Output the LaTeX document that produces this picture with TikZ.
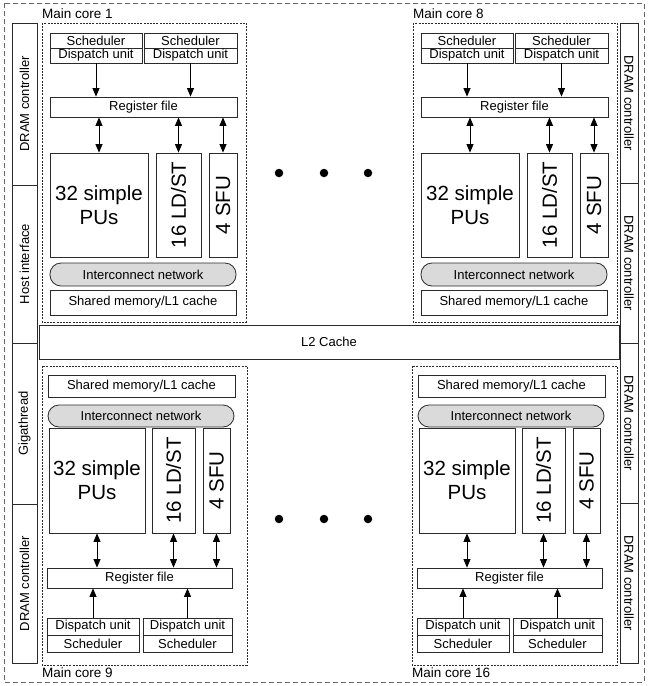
\documentclass[tikz,border=0pt]{standalone}
\usepackage{fontspec}
\setmainfont{Liberation Sans}
\usetikzlibrary{arrows.meta}
\definecolor{linec}{HTML}{2A2A2A}
\definecolor{icfill}{HTML}{DADADA}
\definecolor{outerc}{HTML}{666666}
\tikzset{
 box/.style={draw=linec, line width=0.8pt, inner sep=0pt, font=\fontsize{13}{15}\selectfont},
 bigtext/.style={inner sep=0pt, font=\fontsize{20.5}{24}\selectfont, align=center},
 sidetext/.style={inner sep=0pt, font=\fontsize{13}{15}\selectfont},
 icbox/.style={box, fill=icfill, rounded corners=11pt},
 corebox/.style={draw=linec, line width=0.6pt, dash pattern=on 2pt off 1.2pt},
 outerbox/.style={draw=outerc, line width=0.8pt, dash pattern=on 5pt off 3pt},
 arr/.style={-{Triangle[length=8.5pt,width=7pt]}, line width=0.8pt},
 darr/.style={{Triangle[length=8.5pt,width=7pt]}-{Triangle[length=8.5pt,width=7pt]}, line width=0.8pt},
 corelabel/.style={font=\fontsize{13.5}{15}\selectfont, inner sep=0pt, anchor=base west},
 dotmark/.style={fill=black, circle, inner sep=0pt, minimum size=8.5pt},
}
\newcommand{\topcore}[3]{%
\begin{scope}[xshift=#2pt]
\draw[corebox] (42,23) rectangle (246,322);
\node[corelabel] (#1lab) at (42,18) {#3};
\node[box, minimum width=92, minimum height=15] (#1sa) at (96,40.5) {Scheduler};
\node[box, minimum width=92, minimum height=15] (#1da) at (96,55.5) {Dispatch unit};
\node[box, minimum width=93, minimum height=15] (#1sb) at (190.5,40.5) {Scheduler};
\node[box, minimum width=93, minimum height=15] (#1db) at (190.5,55.5) {Dispatch unit};
\node[box, minimum width=187, minimum height=20] (#1rf) at (143.5,107) {Register file};
\node[box, minimum width=98, minimum height=104] (#1pu) at (99,205) {};
\node[bigtext] at (#1pu) {32 simple\\PUs};
\node[box, minimum width=45, minimum height=104] (#1ls) at (178.5,205) {};
\node[bigtext, rotate=90] at (#1ls) {16 LD/ST};
\node[box, minimum width=28, minimum height=104] (#1sf) at (223,205) {};
\node[bigtext, rotate=90] at (#1sf) {4 SFU};
\node[icbox, minimum width=186, minimum height=23] (#1ic) at (143,274.5) {Interconnect network};
\node[box, minimum width=186, minimum height=25] (#1sm) at (143,302.5) {Shared memory/L1 cache};
\draw[arr] (#1da) -- (#1da |- #1rf.north);
\draw[arr] (#1db) -- (#1db |- #1rf.north);
\draw[darr] (#1pu) -- (#1pu |- #1rf.south);
\draw[darr] (#1ls) -- (#1ls |- #1rf.south);
\draw[darr] (#1sf) -- (#1sf |- #1rf.south);
\end{scope}}
\newcommand{\bottomcore}[3]{%
\begin{scope}[xshift=#2pt]
\draw[corebox] (42,366) rectangle (247,665);
\node[corelabel] (#1lab) at (42,677) {#3};
\node[box, minimum width=187, minimum height=22] (#1sm) at (141.5,386) {Shared memory/L1 cache};
\node[icbox, minimum width=186, minimum height=22] (#1ic) at (141,416) {Interconnect network};
\node[box, minimum width=96, minimum height=105] (#1pu) at (97,480.5) {};
\node[bigtext] at (#1pu) {32 simple\\PUs};
\node[box, minimum width=43, minimum height=105] (#1ls) at (173.5,480.5) {};
\node[bigtext, rotate=90] at (#1ls) {16 LD/ST};
\node[box, minimum width=27, minimum height=105] (#1sf) at (216.5,480.5) {};
\node[bigtext, rotate=90] at (#1sf) {4 SFU};
\node[box, minimum width=185, minimum height=20] (#1rf) at (139.5,578) {Register file};
\node[box, minimum width=92, minimum height=17] (#1da) at (93,626.5) {Dispatch unit};
\node[box, minimum width=92, minimum height=17] (#1sa) at (93,643.5) {Scheduler};
\node[box, minimum width=89, minimum height=17] (#1db) at (187.5,626.5) {Dispatch unit};
\node[box, minimum width=89, minimum height=17] (#1sb) at (187.5,643.5) {Scheduler};
\draw[arr] (#1da) -- (#1da |- #1rf.south);
\draw[arr] (#1db) -- (#1db |- #1rf.south);
\draw[darr] (#1pu) -- (#1pu |- #1rf.north);
\draw[darr] (#1ls) -- (#1ls |- #1rf.north);
\draw[darr] (#1sf) -- (#1sf |- #1rf.north);
\end{scope}}
\begin{document}
\begin{tikzpicture}[x=1pt,y=-1pt]
\useasboundingbox (0,0) rectangle (648,686);
\draw[outerbox] (4,3) rectangle (644,682);
% left column
\node[box, minimum width=25, minimum height=162] (l1) at (24.5,104) {};
\node[sidetext, rotate=90] at (l1) {DRAM controller};
\node[box, minimum width=25, minimum height=158] (l2) at (24.5,264) {};
\node[sidetext, rotate=90] at (l2) {Host interface};
\node[box, minimum width=25, minimum height=161] (l3) at (24.5,423.5) {};
\node[sidetext, rotate=90] at (l3) {Gigathread};
\node[box, minimum width=25, minimum height=159] (l4) at (24.5,583.5) {};
\node[sidetext, rotate=90] at (l4) {DRAM controller};
% right column
\node[box, minimum width=18, minimum height=160] (r1) at (629,103) {};
\node[sidetext, rotate=-90] at (r1) {DRAM controller};
\node[box, minimum width=18, minimum height=160] (r2) at (629,263) {};
\node[sidetext, rotate=-90] at (r2) {DRAM controller};
\node[box, minimum width=18, minimum height=160] (r3) at (629,423) {};
\node[sidetext, rotate=-90] at (r3) {DRAM controller};
\node[box, minimum width=18, minimum height=160] (r4) at (629,583) {};
\node[sidetext, rotate=-90] at (r4) {DRAM controller};
% L2
\node[box, font=\fontsize{13}{15}\selectfont, minimum width=580, minimum height=34] (l2c) at (329,342) {L2 Cache};
% cores
\topcore{a}{0}{Main core 1}
\topcore{b}{371}{Main core 8}
\bottomcore{c}{0}{Main core 9}
\bottomcore{d}{370}{Main core 16}
% dots
\node[dotmark] (t1) at (279,173) {};
\node[dotmark] (t2) at (324,173) {};
\node[dotmark] (t3) at (368,173) {};
\node[dotmark] (u1) at (279,519) {};
\node[dotmark] (u2) at (324,519) {};
\node[dotmark] (u3) at (368,519) {};
\end{tikzpicture}
\end{document}
